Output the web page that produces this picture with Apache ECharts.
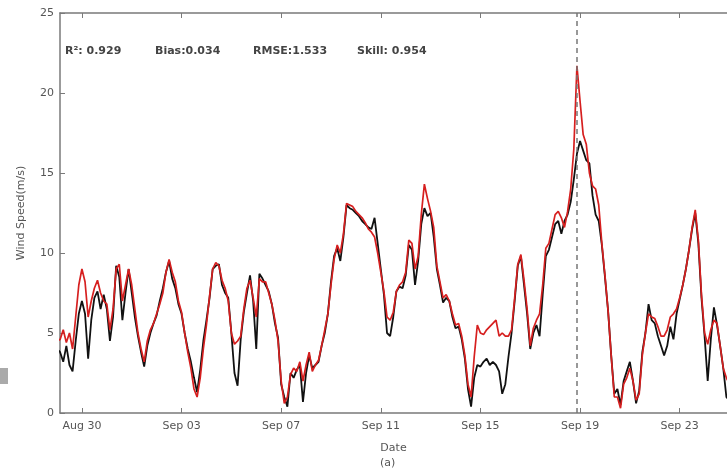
<!DOCTYPE html>
<html><head><meta charset="utf-8">
<script src="https://cdn.jsdelivr.net/npm/echarts@6/dist/echarts.min.js"></script>
<style>html,body{margin:0;padding:0;background:#fff}#c{width:727px;height:474px}</style>
</head><body><div id="c"></div>
<script>
// rows: one per day, 8 samples (00,03,...,21h)
const dayLabels = ['Aug 29','Aug 30','Aug 31','Sep 01','Sep 02','Sep 03','Sep 04','Sep 05','Sep 06','Sep 07','Sep 08','Sep 09','Sep 10','Sep 11','Sep 12','Sep 13','Sep 14','Sep 15','Sep 16','Sep 17','Sep 18','Sep 19','Sep 20','Sep 21','Sep 22','Sep 23','Sep 24','Sep 25'];
const observed = [
 [4.0,3.8,3.2,4.2,3.0,2.6,4.5,6.2],
 [7.0,6.2,3.4,5.8,7.2,7.6,6.5,7.4],
 [6.5,4.5,6.0,9.2,8.5,5.8,7.5,9.0],
 [7.5,6.0,4.8,3.8,2.9,4.2,5.0,5.6],
 [6.1,7.0,7.8,8.8,9.5,8.4,7.8,6.8],
 [6.2,5.0,4.0,3.2,2.2,1.3,2.7,4.5],
 [5.8,7.2,9.0,9.2,9.3,8.0,7.5,7.2],
 [5.0,2.5,1.7,4.6,6.3,7.5,8.6,7.0],
 [4.0,8.7,8.4,8.0,7.6,6.8,5.6,4.7],
 [1.8,1.0,0.4,2.5,2.2,2.7,3.0,0.7],
 [2.5,3.6,2.8,3.0,3.2,4.2,5.0,6.2],
 [8.2,9.8,10.3,9.5,11.0,13.0,12.8,12.7],
 [12.5,12.3,12.0,11.8,11.6,11.5,12.2,10.6],
 [9.0,7.4,5.0,4.8,6.0,7.6,7.9,7.8],
 [8.6,10.5,10.2,8.0,9.5,11.8,12.8,12.3],
 [12.5,11.0,9.0,8.0,6.9,7.2,7.0,6.0],
 [5.3,5.4,4.6,3.4,1.5,0.4,2.2,3.0],
 [2.9,3.2,3.4,3.0,3.2,3.0,2.6,1.2],
 [1.8,3.5,5.0,7.0,9.2,9.8,8.0,6.2],
 [4.0,5.0,5.5,4.8,7.4,9.8,10.2,11.0],
 [11.8,12.0,11.2,12.0,12.4,13.2,14.6,16.2],
 [17.0,16.4,15.8,15.6,13.6,12.4,12.0,10.5],
 [8.5,6.4,3.6,1.2,1.5,0.5,2.0,2.6],
 [3.2,2.0,0.6,1.4,3.8,5.0,6.8,5.8],
 [5.6,4.8,4.2,3.6,4.2,5.4,4.6,6.2],
 [7.1,8.0,9.0,10.2,11.5,12.5,10.6,7.2],
 [4.8,2.0,4.6,6.6,5.5,4.2,2.8,1.0],
 [0.8]
];
const modelled = [
 [4.5,4.6,5.2,4.4,5.0,4.0,6.0,8.0],
 [9.0,8.2,6.0,7.0,7.8,8.3,7.5,7.0],
 [6.8,5.2,6.5,9.0,9.3,7.0,8.0,9.0],
 [8.0,6.5,5.0,4.0,3.2,4.5,5.2,5.6],
 [6.2,6.8,7.5,8.8,9.6,8.8,8.2,7.0],
 [6.3,5.0,3.8,2.8,1.5,1.0,2.2,4.0],
 [5.5,7.3,9.0,9.4,9.2,8.3,7.8,7.0],
 [5.0,4.3,4.5,4.8,6.5,7.8,8.3,7.2],
 [6.0,8.4,8.2,8.2,7.5,6.8,5.8,4.5],
 [2.0,0.6,1.0,2.4,2.8,2.6,3.2,2.0],
 [3.0,3.8,2.6,3.0,3.3,4.2,5.2,6.2],
 [8.0,9.6,10.5,10.0,11.2,13.1,13.0,12.9],
 [12.6,12.4,12.2,11.9,11.5,11.3,11.0,10.0],
 [8.8,7.6,6.0,5.8,6.3,7.6,8.0,8.2],
 [8.8,10.8,10.6,9.0,9.8,12.4,14.3,13.4],
 [12.6,11.6,9.2,8.2,7.2,7.4,7.0,6.2],
 [5.5,5.6,4.8,3.6,1.8,1.0,3.5,5.5],
 [5.0,4.9,5.2,5.4,5.6,5.8,4.8,5.0],
 [4.8,4.8,5.2,7.2,9.3,9.9,8.3,6.5],
 [4.2,5.3,5.8,6.2,8.0,10.3,10.6,11.5],
 [12.4,12.6,12.2,11.6,12.6,14.0,16.5,21.7],
 [19.5,17.4,16.8,15.0,14.2,14.0,13.0,10.6],
 [8.6,6.4,3.6,1.0,1.0,0.3,1.8,2.2],
 [2.8,2.0,0.8,1.2,3.6,5.0,6.2,6.0],
 [5.9,5.4,4.8,4.8,5.2,6.0,6.2,6.5],
 [7.2,8.0,9.0,10.2,11.6,12.7,10.8,7.4],
 [5.0,4.3,5.2,5.8,5.6,4.2,2.8,2.2],
 [1.8]
];
const tickDays = [0,4,8,12,16,20,24];
const tickLabels = ['Aug 30','Sep 03','Sep 07','Sep 11','Sep 15','Sep 19','Sep 23'];
const stats = ['R\u00B2: 0.929','Bias:0.034','RMSE:1.533','Skill: 0.954'];
const eventDay = 19.85;

// day offset relative to Aug 30 00:00, 3-hourly samples
function toPairs(rows){
  const out=[];
  rows.forEach((r,i)=>r.forEach((v,j)=>out.push([(i-1)+j*0.125, v])));
  return out;
}
const chart = echarts.init(document.getElementById('c'));
const axisCol = '#7a7a7a', txtCol = '#555';
const statX = [65,155,253,357];
chart.setOption({
  animation:false,
  grid:{left:60,right:0,top:13,bottom:61},
  xAxis:[{
    type:'value',min:-0.88,max:25.9,
    axisLine:{onZero:false,lineStyle:{color:axisCol,width:1.5}},
    axisTick:{inside:true,length:5,customValues:tickDays,lineStyle:{color:axisCol}},
    axisLabel:{customValues:tickDays,color:txtCol,fontSize:11,fontFamily:'DejaVu Sans',margin:8,
      formatter:v=>tickLabels[tickDays.indexOf(Math.round(v))]||''},
    splitLine:{show:false},
    name:'Date',nameLocation:'middle',nameGap:30,nameTextStyle:{color:txtCol,fontSize:11,fontFamily:'DejaVu Sans'}
  },{
    type:'value',min:-0.88,max:25.9,position:'top',
    axisLine:{show:true,onZero:false,lineStyle:{color:axisCol,width:1.5}},
    axisTick:{inside:true,length:5,customValues:tickDays,lineStyle:{color:axisCol}},
    axisLabel:{show:false},splitLine:{show:false}
  }],
  yAxis:{type:'value',min:0,max:25,interval:5,
    axisLine:{show:true,onZero:false,lineStyle:{color:axisCol,width:1.5}},
    axisTick:{show:true,inside:true,length:5,lineStyle:{color:axisCol}},
    axisLabel:{color:txtCol,fontSize:11,fontFamily:'DejaVu Sans',margin:6},
    splitLine:{show:false},
    name:'Wind Speed(m/s)',nameLocation:'middle',nameGap:33,
    nameTextStyle:{color:txtCol,fontSize:11,fontFamily:'DejaVu Sans'}
  },
  series:[
    {type:'line',data:toPairs(observed),showSymbol:false,lineStyle:{color:'#111',width:1.8},
     markLine:{silent:true,symbol:'none',label:{show:false},
       lineStyle:{color:'#777',type:[5,4],width:1.5},data:[{xAxis:eventDay}]}},
    {type:'line',data:toPairs(modelled),showSymbol:false,lineStyle:{color:'#d61f1f',width:1.7}}
  ],
  graphic:[
    ...stats.map((s,i)=>({type:'text',left:statX[i],top:46,
      style:{text:s,fill:'#444',font:'bold 11px DejaVu Sans'}})),
    {type:'text',left:380,top:458,style:{text:'(a)',fill:txtCol,font:'11px DejaVu Sans'}},
    {type:'rect',shape:{x:0,y:368,width:8,height:16},style:{fill:'#aaa'}}
  ]
});
</script></body></html>
